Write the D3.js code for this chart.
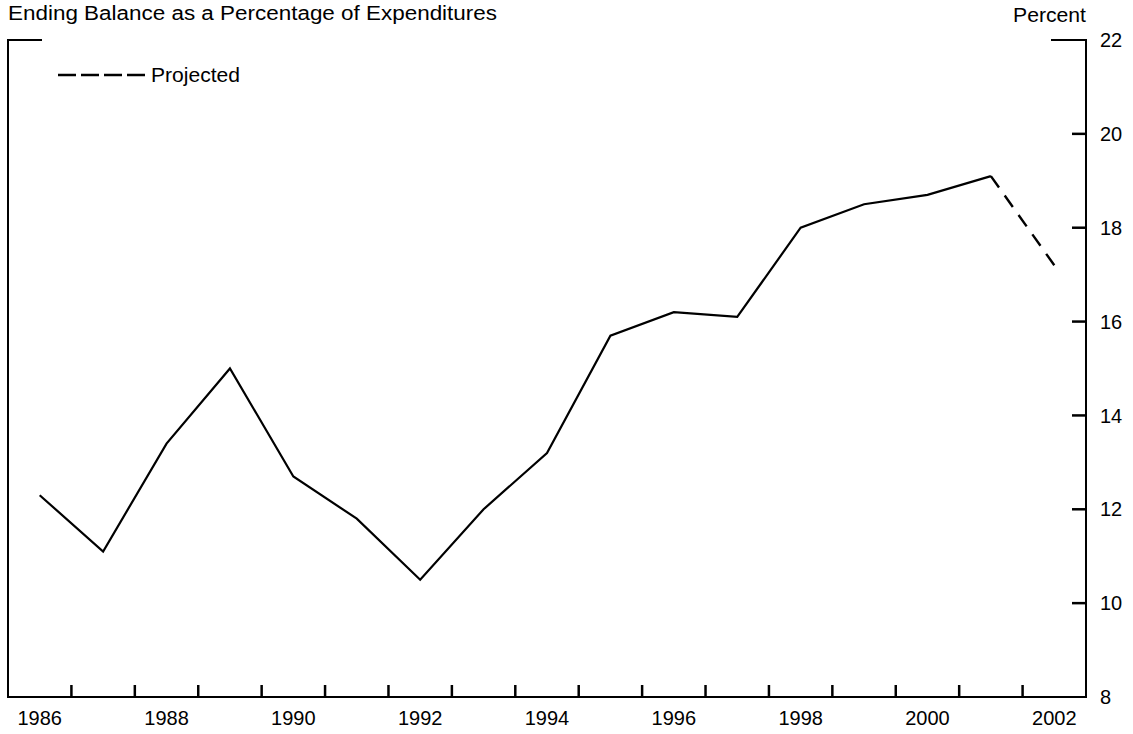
<!DOCTYPE html>
<html>
<head>
<meta charset="utf-8">
<script src="https://cdn.jsdelivr.net/npm/d3@7/dist/d3.min.js"></script>
<style>
  html, body { margin: 0; padding: 0; background: #fff; }
  svg { display: block; }
  text { font-family: "Liberation Sans", Arial, Helvetica, sans-serif; fill: #000; }
</style>
</head>
<body>
<svg id="chart" width="1133" height="734"></svg>
<script>
const years = [1986,1987,1988,1989,1990,1991,1992,1993,1994,1995,1996,1997,1998,1999,2000,2001,2002];
const actual = [12.3,11.1,13.4,15.0,12.7,11.8,10.5,12.0,13.2,15.7,16.2,16.1,18.0,18.5,18.7,19.1,null];
const projected = [null,null,null,null,null,null,null,null,null,null,null,null,null,null,null,19.1,17.2];
const yTicks = [8,10,12,14,16,18,20,22];
const xLabels = [1986,1988,1990,1992,1994,1996,1998,2000,2002];
const title = "Ending Balance as a Percentage of Expenditures";
const unitLabel = "Percent";
const legendLabel = "Projected";

const svg = d3.select("#chart");
const L = 8, R = 1086, T = 40, B = 697;
const fs = 20;

const x = d3.scaleBand().domain(years).range([L, R]).padding(0);
const y = d3.scaleLinear().domain([8, 22]).range([B, T]);
const cx = d => x(d) + x.bandwidth() / 2;

// Title and unit
svg.append("text").attr("x", L).attr("y", 20).attr("font-size", fs)
  .attr("textLength", 489).attr("lengthAdjust", "spacingAndGlyphs").text(title);
svg.append("text").attr("x", R - 73).attr("y", 22).attr("font-size", fs)
  .attr("textLength", 73).attr("lengthAdjust", "spacingAndGlyphs").text(unitLabel);

// Frame: left axis, bottom axis, right axis, partial top
const frame = svg.append("g").attr("stroke", "#000").attr("stroke-width", 2).attr("fill", "none");
frame.append("path").attr("d", `M${L+34},${T}H${L}V${B}H${R}V${T}H${R-35}`);

// Bottom ticks (at band boundaries, excluding ends)
const bounds = years.slice(1).map(d => x(d));
svg.append("g").selectAll("line").data(bounds).join("line")
  .attr("x1", d => d).attr("x2", d => d)
  .attr("y1", B).attr("y2", B - 12)
  .attr("stroke", "#000").attr("stroke-width", 2.5);

// Bottom labels
svg.append("g").selectAll("text").data(xLabels).join("text")
  .attr("x", d => cx(d)).attr("y", B + 28)
  .attr("text-anchor", "middle").attr("font-size", fs)
  .text(d => d);

// Right axis ticks (inward) and labels
const yInner = yTicks.filter(d => d > 8 && d < 22);
svg.append("g").selectAll("line").data(yInner).join("line")
  .attr("x1", R).attr("x2", R - 14)
  .attr("y1", d => y(d)).attr("y2", d => y(d))
  .attr("stroke", "#000").attr("stroke-width", 2.5);
svg.append("g").selectAll("text").data(yTicks).join("text")
  .attr("x", R + 14).attr("y", d => y(d))
  .attr("dy", "0.36em").attr("font-size", fs)
  .text(d => d);

// Lines
const lineGen = d3.line().defined(d => d.v != null).x(d => cx(d.yr)).y(d => y(d.v));
svg.append("path")
  .datum(years.map((yr, i) => ({yr, v: actual[i]})))
  .attr("d", lineGen).attr("fill", "none").attr("stroke", "#000").attr("stroke-width", 2.2)
  .attr("stroke-linejoin", "miter");
const proj = svg.append("path")
  .datum(years.map((yr, i) => ({yr, v: projected[i]})))
  .attr("d", lineGen).attr("fill", "none").attr("stroke", "#000").attr("stroke-width", 2.4);
// dash pattern that ends on a dash
const len = proj.node().getTotalLength();
const dash = 14, n = 5, gap = (len - n * dash) / (n - 1);
proj.attr("stroke-dasharray", `${dash},${gap}`);

// Legend
svg.append("line").attr("x1", 58).attr("x2", 145).attr("y1", 75).attr("y2", 75)
  .attr("stroke", "#000").attr("stroke-width", 2.5).attr("stroke-dasharray", "18,5");
svg.append("text").attr("x", 151).attr("y", 75).attr("dy", "0.36em").attr("font-size", fs)
  .attr("textLength", 89).attr("lengthAdjust", "spacingAndGlyphs").text(legendLabel);
</script>
</body>
</html>
